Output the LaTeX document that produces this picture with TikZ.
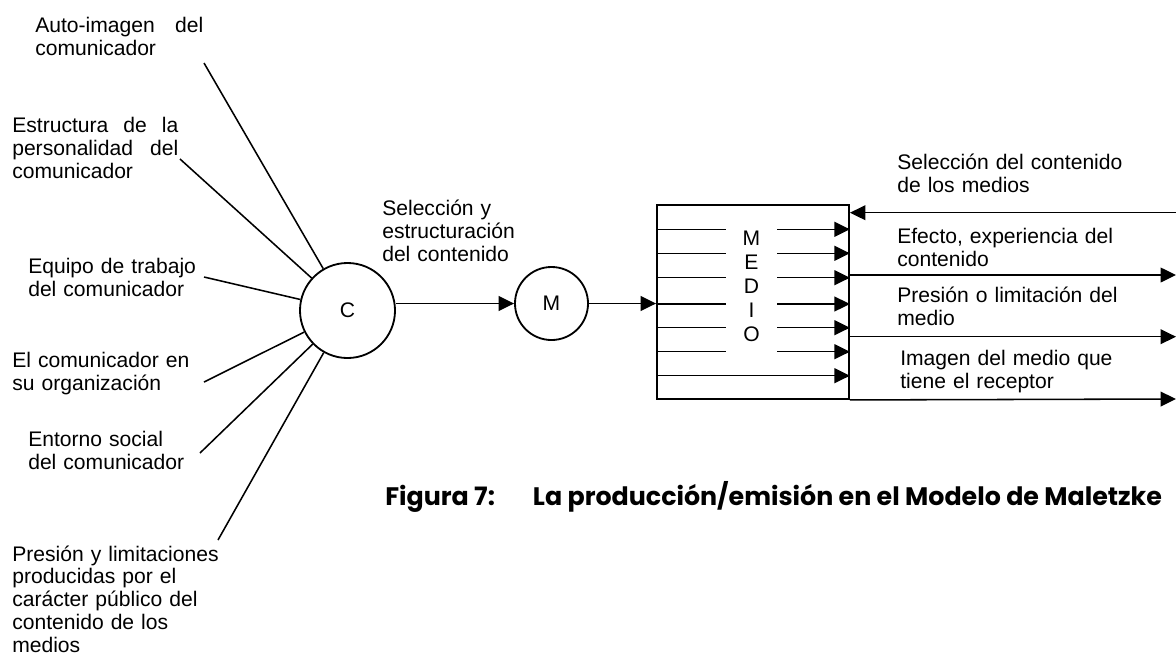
\documentclass[tikz,border=0pt]{standalone}
\usepackage{fontspec}
\setmainfont{Liberation Sans}
\newfontfamily\capfont{Poppins}
\usetikzlibrary{arrows.meta}

\tikzset{
  lbl/.style={anchor=base west,inner sep=0pt,text width=6cm,align=left,font=\fontsize{15}{16.7}\selectfont},
  jlbl/.style={lbl,align=justify},
  circ/.style={draw,circle,inner sep=0pt,line width=1.3pt,font=\fontsize{15}{18}\selectfont},
  wire/.style={line width=1.1pt},
  arr/.style={wire,-{Triangle[length=11pt,width=10.5pt]}},
}

\begin{document}
\begin{tikzpicture}[x=0.025cm,y=-0.025cm]
\path[use as bounding box] (0,0) rectangle (1176,659);
\node[circ,minimum size=2.375cm] (C) at (347.5,310.5) {C};
\node[circ,minimum size=1.825cm] (M) at (551.5,303.5) {M};
\node[draw,line width=1.3pt,inner sep=0pt,minimum width=4.8cm,minimum height=4.85cm] (medio) at (753,302) {};
\node[jlbl,text width=4.2cm] (t1) at (35,32) {Auto-imagen del\linebreak comunicador};
\node[jlbl,text width=4.15cm] (t2) at (12,132) {Estructura de la\linebreak personalidad del\linebreak comunicador};
\node[lbl] (t3) at (28,273) {Equipo de trabajo\\del comunicador};
\node[lbl] (t4) at (12,367) {El comunicador en\\su organización};
\node[lbl] (t5) at (28,446) {Entorno social\\del comunicador};
\node[lbl,font=\fontsize{15}{16.3}\selectfont] (t6) at (12,561) {Presión y limitaciones\\producidas por el\\carácter público del\\contenido de los\\medios};
\coordinate (a1) at (204,63);
\coordinate (a2) at (180,159);
\coordinate (a3) at (204,277);
\coordinate (a4) at (204,382);
\coordinate (a5) at (200,453);
\coordinate (a6) at (218,540);
\foreach \a in {a1,a2,a3,a4,a5,a6}
  \draw[wire] (\a) -- (C);
\node[lbl] (sel) at (382,215) {Selección y\\estructuración\\del contenido};
\draw[arr] (C.east |- M.west) -- (M.west);
\draw[arr] (M.east) -- (medio.west |- M.east);
\foreach \y in {229.3,253.3,277.7,304,327.7,351.7,375.7}
  \draw[arr] (medio.west |- 0,\y) -- (medio.east |- 0,\y);
\fill[white] (726,216) rectangle (777,370);
\node[inner sep=0pt,anchor=base,text width=1cm,align=center,font=\fontsize{15}{17.2}\selectfont] (letras) at (751.5,245) {M\\E\\D\\I\\O};
\coordinate (r0) at (1176,212.7);
\coordinate (r1) at (1176,275);
\coordinate (r2) at (1176,336.7);
\coordinate (r3) at (1176,399);
\draw[arr] (r0) -- (medio.east |- r0);
\draw[arr] (medio.east |- r1) -- (r1);
\draw[arr] (medio.east |- r2) -- (r2);
\draw[arr] (medio.south east) -- (r3);
\node[lbl] (s0) at (897,169.5) {Selección del contenido\\de los medios};
\node[lbl] (s1) at (897,243) {Efecto, experiencia del\\contenido};
\node[lbl] (s2) at (897,302) {Presión o limitación del\\medio};
\node[lbl] (s3) at (900,365) {Imagen del medio que\\tiene el receptor};
\node[anchor=base west,inner sep=0pt,font={\capfont\bfseries\fontsize{18}{21}\selectfont}] (cap) at (385,505) {Figura 7:\hspace{0.95cm}La producción/emisión en el Modelo de Maletzke};
\end{tikzpicture}
\end{document}
